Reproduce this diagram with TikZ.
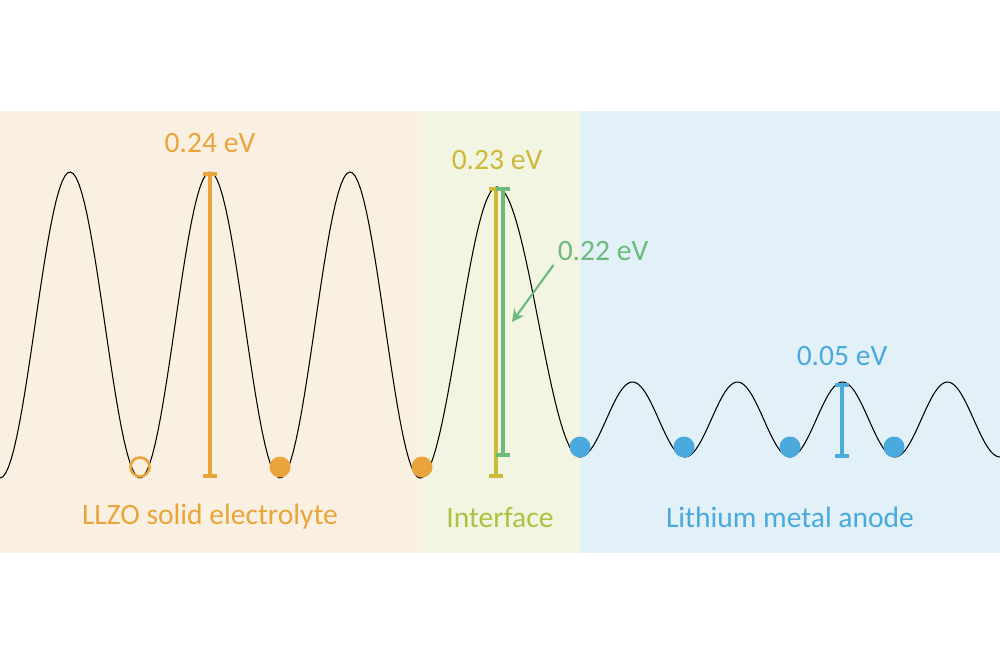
\documentclass[tikz,border=0pt]{standalone}
\usepackage{fontspec}
\setmainfont{Carlito}
\usetikzlibrary{arrows.meta}

\definecolor{llzo}{HTML}{E9A53B}
\definecolor{intf}{HTML}{CDB83A}
\definecolor{intfg}{HTML}{6DBA7C}
\definecolor{lime}{HTML}{AAC43F}
\definecolor{li}{HTML}{4AA9DD}
\definecolor{llzobg}{HTML}{FAF0E1}
\definecolor{intfbg}{HTML}{F2F5E2}
\definecolor{libg}{HTML}{E2F0F8}

\begin{document}
\begin{tikzpicture}[x=0.01cm,y=-0.01cm,
  ion/.style={circle,minimum size=0.21cm,inner sep=0pt},
  barrier/.style={line width=1pt,{Bar[width=3.9pt]}-{Bar[width=3.9pt]}},
  lab/.style={inner sep=1pt,font=\fontsize{8.4}{10}\selectfont}]
\useasboundingbox (0,0) rectangle (1000,666);

% regions
\fill[llzobg] (0,111) rectangle (420,553);
\fill[intfbg] (420,111) rectangle (580,553);
\fill[libg] (580,111) rectangle (1000,553);

% energy landscape
\draw[line width=0.3pt]
  plot[domain=0:420,samples=150] (\x,{478-153*(1-cos(\x*2.5714))})
  -- plot[domain=420:497,samples=40] (\x,{478-145.5*(1-cos((\x-420)*2.3377))})
  -- plot[domain=497:580,samples=40] (\x,{457-135*(1+cos((\x-497)*2.1687))})
  -- plot[domain=580:1000,samples=160] (\x,{457-37.5*(1-cos((\x-580)*3.4286))});

% ions
\node[ion,draw=llzo,line width=0.75pt,minimum size=0.19cm] (ion0) at (140,467) {};
\foreach \x/\n in {280/1,422/2} {
  \node[ion,fill=llzo] (ion\n) at (\x,467) {};
}
\foreach \x/\n in {580/3,684/4,790/5,894/6} {
  \node[ion,fill=li] (ion\n) at (\x,447) {};
}

% barriers
\coordinate (t24) at (210,172);
\coordinate (b24) at (210,478);
\draw[barrier,llzo] (t24) -- (b24);
\node[lab,text=llzo] (l24) at (210,143) {0.24 eV};

\coordinate (t23) at (496,187);
\coordinate (b23) at (496,478);
\draw[barrier,intf] (t23) -- (b23);
\node[lab,text=intf] (l23) at (497,160) {0.23 eV};

\coordinate (t22) at (503,187);
\coordinate (b22) at (503,457);
\draw[barrier,intfg] (t22) -- (b22);
\node[lab,text=intfg] (l22) at (603,251) {0.22 eV};
\coordinate (p22) at (512,322);
\draw[intfg,line width=0.6pt,-{Stealth[length=3.5pt,width=3.5pt]}] (l22.south west) -- (p22);

\coordinate (t05) at (842,383);
\coordinate (b05) at (842,458);
\draw[barrier,li] (t05) -- (b05);
\node[lab,text=li] (l05) at (842,356) {0.05 eV};

% region labels
\node[lab,text=llzo] (rllzo) at (210,517) {LLZO solid electrolyte};
\node[lab,text=lime] (rintf) at (500,517) {Interface};
\node[lab,text=li] (rli) at (790,517) {Lithium metal anode};
\end{tikzpicture}
\end{document}
